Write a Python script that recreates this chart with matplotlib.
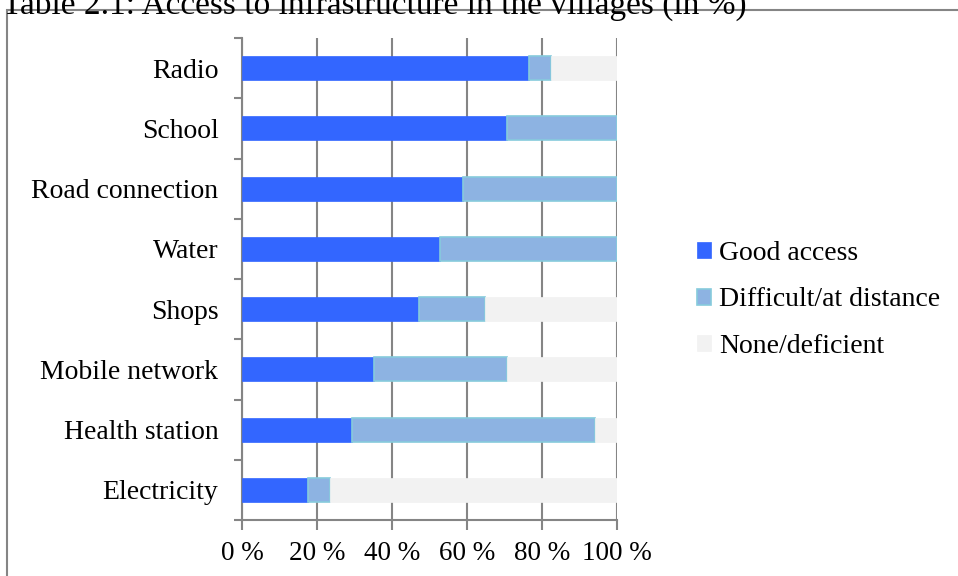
import numpy as np
import matplotlib.pyplot as plt
import matplotlib.patheffects as pe
from matplotlib.patches import Rectangle

plt.rcParams['font.family'] = ['Liberation Serif', 'DejaVu Serif']

categories = ['Radio', 'School', 'Road connection', 'Water', 'Shops',
              'Mobile network', 'Health station', 'Electricity']
good = [76.5, 70.6, 58.8, 52.9, 47.1, 35.3, 29.4, 17.6]
difficult = [5.9, 29.4, 41.2, 47.1, 17.6, 35.3, 64.7, 5.9]
none = [17.6, 0.0, 0.0, 0.0, 35.3, 29.4, 5.9, 76.5]
series = ['Good access', 'Difficult/at distance', 'None/deficient']
xticks = [0, 20, 40, 60, 80, 100]
xlabels = ['0 %', '20 %', '40 %', '60 %', '80 %', '100 %']

c_good = '#3366FF'
c_diff = '#8DB3E2'
c_none = '#F2F2F2'
grey = '#858585'

fig = plt.figure(figsize=(9.58, 5.76), dpi=100)
ax = fig.add_axes([242/958, 56/576, 375/958, 482/576])

# outer frame and cut-off caption
fig.patches.append(Rectangle((7/958, -0.1), 1.2, (576-10)/576 + 0.1,
                             transform=fig.transFigure, fill=False,
                             edgecolor=grey, linewidth=1.5))
fig.text(2/958, 1 - 5/576, 'Table 2.1: Access to infrastructure in the villages (in %)',
         fontsize=24, va='center', ha='left')

y = np.arange(len(categories))[::-1]
shadow = [pe.SimplePatchShadow(offset=(2, -3), shadow_rgbFace='#000000', alpha=0.15),
          pe.Normal()]

left = np.zeros(len(categories))
for vals, col, ec, lab in [(good, c_good, c_good, series[0]),
                           (difficult, c_diff, '#86CBDC', series[1]),
                           (none, c_none, c_none, series[2])]:
    bars = ax.barh(y, vals, left=left, height=0.4, color=col, edgecolor=ec,
                   linewidth=1.2 if ec != col else 0.5, label=lab, zorder=3)
    for b in bars:
        b.set_path_effects(shadow)
    left += np.array(vals)

ax.set_xlim(0, 100)
ax.set_ylim(-0.5, len(categories) - 0.5)
ax.set_xticks(xticks)
ax.set_xticklabels(xlabels, fontsize=19.5)
ax.set_yticks(y)
ax.set_yticklabels(categories, fontsize=20)
ax.set_yticks(np.arange(-0.5, len(categories)), minor=True)
ax.tick_params(axis='y', which='major', length=0, pad=17)
ax.tick_params(axis='y', which='minor', length=6, width=1.5, color=grey, direction='out')
ax.tick_params(axis='x', length=7, width=1.5, color=grey, direction='out', pad=8)
ax.grid(axis='x', color=grey, linewidth=1.5, zorder=0)
ax.set_axisbelow(True)
for s in ['top', 'right']:
    ax.spines[s].set_visible(False)
for s in ['left', 'bottom']:
    ax.spines[s].set_color(grey)
    ax.spines[s].set_linewidth(1.5)

h, l = ax.get_legend_handles_labels()
for hh in h:
    for b in hh:
        b.set_path_effects([])
fig.legend(h, l, loc='center left', bbox_to_anchor=(672/958, 1 - 300/576),
           frameon=False, fontsize=20, handlelength=0.5, handleheight=0.5,
           handletextpad=0.3, labelspacing=0.78)

fig.savefig('out.png', dpi=100)
